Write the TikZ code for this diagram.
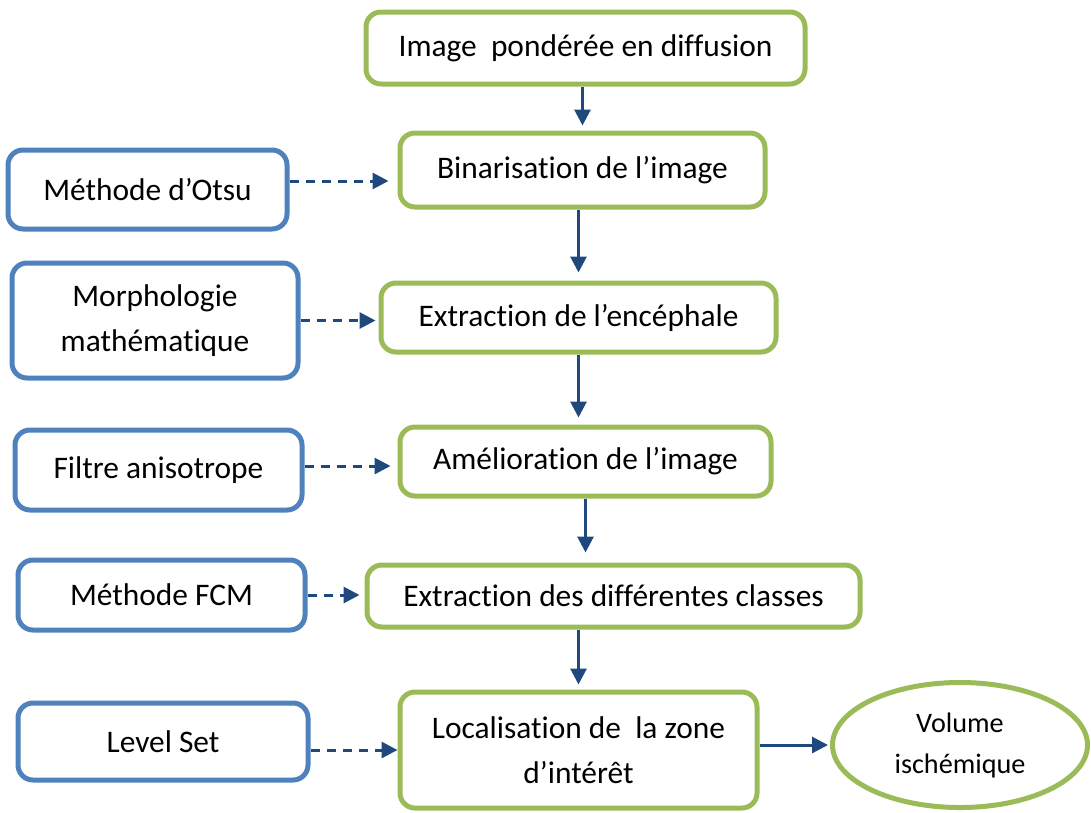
\documentclass[tikz,border=0pt]{standalone}
\usepackage{fontspec}
\setmainfont{Carlito}[Ligatures=CommonOff]
\usepackage{tikz}
\usetikzlibrary{arrows.meta,shapes}
\definecolor{boxgreen}{HTML}{9BBB59}
\definecolor{boxblue}{HTML}{4F81BD}
\definecolor{arrowblue}{HTML}{1F497D}
\tikzstyle{stepbox}=[rectangle,rounded corners=15pt,draw=boxgreen,line width=5pt,fill=white,align=center,inner sep=0pt,font=\fontsize{31.4}{45}\selectfont]
\tikzstyle{toolbox}=[rectangle,rounded corners=15pt,draw=boxblue,line width=5pt,fill=white,align=center,inner sep=0pt,font=\fontsize{31.4}{45}\selectfont]
\tikzstyle{resultnode}=[ellipse,draw=boxgreen,line width=5pt,fill=white,align=center,inner sep=0pt,font=\fontsize{28.2}{41}\selectfont]
\tikzstyle{flow} = [draw=arrowblue,line width=3pt,-{Triangle[length=16pt,width=16pt]}]
\tikzstyle{method} = [flow,dash pattern=on 9pt off 7pt]

\begin{document}
\begin{tikzpicture}[x=1pt,y=-1pt]
    \useasboundingbox (0,0) rectangle (1091,812);
    % the main chain of steps
    \node[stepbox,minimum width=439pt,minimum height=72pt] (img) at (585.5,48) {Image\ \ pondérée en diffusion};
    \node[stepbox,minimum width=365pt,minimum height=74pt] (bin) at (582.5,170) {Binarisation de l’image};
    \node[stepbox,minimum width=395pt,minimum height=69pt] (ence) at (578.5,317.5) {Extraction de l’encéphale};
    \node[stepbox,minimum width=371pt,minimum height=69pt] (amel) at (585.5,461.5) {Amélioration de l’image};
    \node[stepbox,minimum width=493pt,minimum height=62pt] (classes) at (613.5,596) {Extraction des différentes classes};
    \node[stepbox,minimum width=357pt,minimum height=116pt] (local) at (578.5,750) {Localisation de\ \ la zone\\d’intérêt};
    \node[resultnode,minimum width=255pt,minimum height=125pt] (vol) at (960,745) {Volume\\ischémique};

    % the methods on the left
    \node[toolbox,minimum width=279pt,minimum height=79pt] (otsu) at (147.5,189.5) {Méthode d’Otsu};
    \node[toolbox,minimum width=286pt,minimum height=115pt] (morph) at (155,320.5) {Morphologie\\mathématique};
    \node[toolbox,minimum width=287pt,minimum height=80pt] (filtre) at (158.5,470) {Filtre anisotrope};
    \node[toolbox,minimum width=287pt,minimum height=70pt] (fcm) at (161.5,595) {Méthode FCM};
    \node[toolbox,minimum width=290pt,minimum height=77pt] (level) at (163,741.5) {Level Set};

    % arrows down the chain
    \path[flow,shorten >=5pt] (bin.north |- img.south) -- (bin.north);
    \path[flow,shorten >=8pt] (ence.north |- bin.south) -- (ence.north);
    \path[flow,shorten >=7pt] (ence.south) -- (ence.south |- amel.north);
    \path[flow,shorten >=10pt] (amel.south) -- (amel.south |- classes.north);
    \path[flow,shorten >=5pt] (local.north |- classes.south) -- (local.north);
    \path[flow,shorten >=2pt] (local.east |- vol.west) -- (vol.west);

    % dashed arrows from the methods
    \path[method,shorten >=9pt] (otsu.east |- 0,181) -- (bin.west |- 0,181);
    \path[method,shorten >=3pt] (morph.east) -- (morph.east -| ence.west);
    \path[method,shorten >=7pt] (filtre.east |- 0,466) -- (amel.west |- 0,466);
    \path[method,shorten >=5pt] (fcm.east) -- (fcm.east -| classes.west);
    \path[method] (local.west -| level.east) -- (local.west);
\end{tikzpicture}
\end{document}
